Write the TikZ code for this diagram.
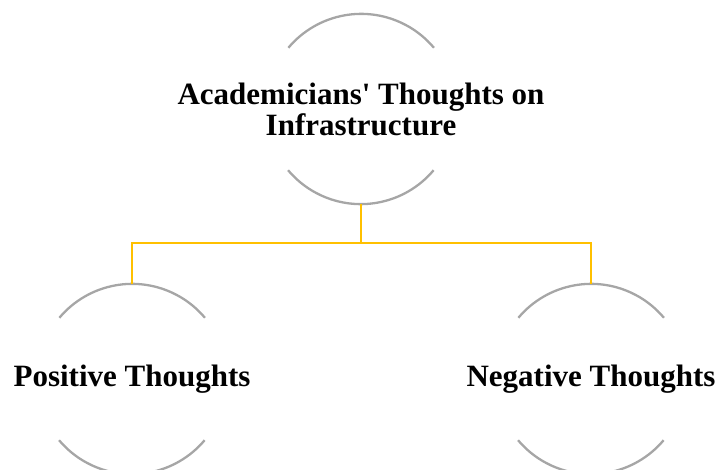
\documentclass[tikz,border=0pt]{standalone}
\usepackage{fontspec}
\setmainfont{Liberation Serif}
\usetikzlibrary{positioning}
\definecolor{arcgray}{HTML}{A6A6A6}
\definecolor{linkgold}{HTML}{FFC000}
\tikzset{
  ring/.style={circle, minimum size=190pt, inner sep=0pt},
  caption/.style={align=center, inner sep=0pt,
    font=\bfseries\fontsize{31}{31}\selectfont},
  rim/.style={arcgray, line width=2.3pt},
  link/.style={linkgold, line width=2.3pt}
}
\begin{document}
\begin{tikzpicture}[x=1pt,y=-1pt]
  \useasboundingbox (0,0) rectangle (721,470);
  \node[ring] (main) at (361,109) {};
  \node[ring] (pos) at (132,379) {};
  \node[ring] (neg) at (591,379) {};
  \node[caption] (maintext) at (main.center) {Academicians\textquotesingle{} Thoughts on\\Infrastructure};
  \node[caption] (postext) at (pos.center) {Positive Thoughts};
  \node[caption] (negtext) at (neg.center) {Negative Thoughts};
  % arcs round each topic
  \foreach \n in {main,pos,neg} {
    \draw[rim] (\n.40) arc[start angle=40, end angle=140, radius=95pt];
    \draw[rim] (\n.220) arc[start angle=220, end angle=320, radius=95pt];
  }
  % links
  \coordinate (fork) at (361,243);
  \draw[link] (main.south) -- (fork) -| (pos.north);
  \draw[link] (fork) -| (neg.north);
\end{tikzpicture}
\end{document}
